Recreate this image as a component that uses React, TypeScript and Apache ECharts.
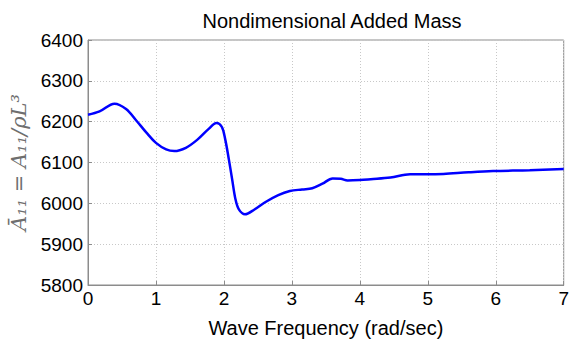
import React, { useEffect, useRef } from "react";
import * as echarts from "echarts";

const freq = [0, 0.17, 0.39, 0.56, 0.71, 0.86, 1.0, 1.15, 1.27, 1.44, 1.61, 1.78, 1.89, 1.97, 2.02, 2.07, 2.12, 2.17, 2.22, 2.31, 2.45, 2.6, 2.8, 2.97, 3.15, 3.3, 3.45, 3.6, 3.72, 3.82, 4.0, 4.16, 4.45, 4.74, 5.0, 5.23, 5.6, 5.96, 6.5, 7.0];
const addedMass = [6217, 6225, 6244, 6231, 6203, 6173, 6148, 6132, 6128, 6136, 6156, 6183, 6197, 6187, 6156, 6110, 6060, 6010, 5985, 5973, 5985, 6002, 6020, 6030, 6034, 6037, 6048, 6061, 6060, 6056, 6057, 6059, 6063, 6071, 6071, 6072, 6076, 6079, 6081, 6084];
const xTicks = [0, 1, 2, 3, 4, 5, 6, 7];
const yTicks = [5800, 5900, 6000, 6100, 6200, 6300, 6400];

export default function App() {
  const ref = useRef<HTMLDivElement>(null);
  useEffect(() => {
    if (!ref.current) return;
    const chart = echarts.init(ref.current, undefined, { renderer: "svg" });
    const font = "Liberation Sans, Arial, Helvetica, sans-serif";
    chart.setOption({
      animation: false,
      backgroundColor: "#ffffff",
      title: {
        text: "Nondimensional Added Mass",
        left: 327,
        textAlign: "center",
        top: 6,
        textStyle: { fontFamily: font, fontSize: 20, fontWeight: "normal", color: "#000" },
      },
      grid: { left: 88, right: 4, top: 40, bottom: 49, show: true, borderColor: "#8c8c8c", borderWidth: 1 },
      xAxis: {
        type: "value",
        min: xTicks[0],
        max: xTicks[xTicks.length - 1],
        interval: 1,
        name: "Wave Frequency (rad/sec)",
        nameLocation: "middle",
        nameGap: 33,
        nameTextStyle: { fontFamily: font, fontSize: 20, color: "#000" },
        axisLine: { show: true, lineStyle: { color: "#8c8c8c" } },
        axisTick: { show: true, inside: true, length: 4, lineStyle: { color: "#8c8c8c" } },
        axisLabel: { fontFamily: font, fontSize: 19, color: "#000", margin: 4, showMaxLabel: true, formatter: (v: number) => String(v) },
        splitLine: { show: true, lineStyle: { color: "#c8c8c8", type: [1, 2] } },
      },
      yAxis: {
        type: "value",
        min: yTicks[0],
        max: yTicks[yTicks.length - 1],
        interval: 100,
        name: "A\u0304\u2081\u2081 = A\u2081\u2081/\u03C1L\u00B3",
        nameLocation: "middle",
        nameRotate: 90,
        nameGap: 50,
        nameTextStyle: { fontFamily: "DejaVu Serif, serif", fontStyle: "italic", fontSize: 21, color: "#6e6e6e" },
        axisLine: { show: true, lineStyle: { color: "#8c8c8c" } },
        axisTick: { show: true, inside: true, length: 4, lineStyle: { color: "#8c8c8c" } },
        axisLabel: { fontFamily: font, fontSize: 19, color: "#000", margin: 5, formatter: (v: number) => String(v) },
        splitLine: { show: true, lineStyle: { color: "#c8c8c8", type: [1, 2] } },
      },
      series: [
        {
          type: "line",
          data: freq.map((f, i) => [f, addedMass[i]]),
          smooth: 0.35,
          showSymbol: false,
          lineStyle: { color: "#0000ff", width: 2.5 },
        },
      ],
    });
    return () => chart.dispose();
  }, []);
  return <div ref={ref} style={{ width: 572, height: 343, position: "absolute", left: 0, top: 0 }} />;
}
